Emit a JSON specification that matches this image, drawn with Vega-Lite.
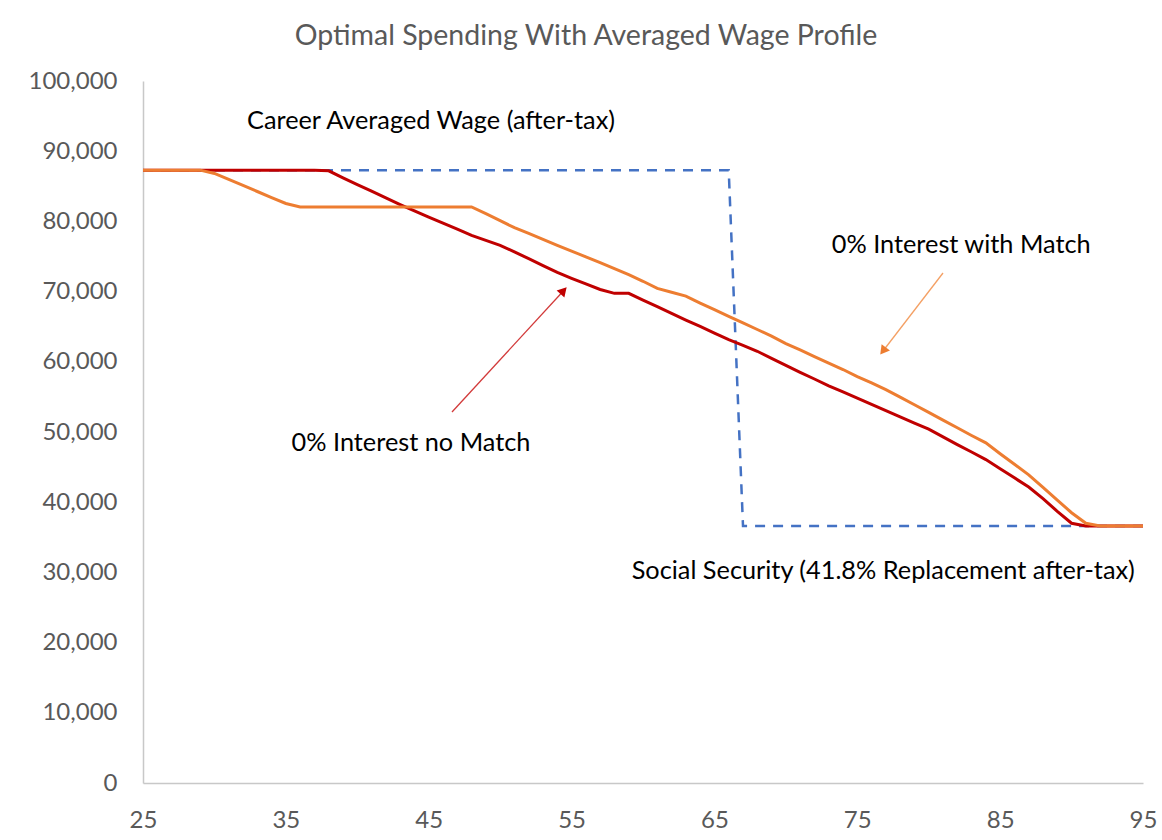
{
  "$schema": "https://vega.github.io/schema/vega-lite/v6.json",
  "width": 1000,
  "height": 702,
  "autosize": {"type": "none"},
  "padding": {"left": 143, "top": 81, "right": 19, "bottom": 57},
  "background": "white",
  "title": {
    "text": "Optimal Spending With Averaged Wage Profile",
    "font": "Lato",
    "fontSize": 28.5,
    "fontWeight": "normal",
    "color": "#595959",
    "anchor": "middle",
    "frame": "group",
    "dx": -57,
    "offset": 19
  },
  "config": {
    "view": {"stroke": null},
    "font": "Lato",
    "axis": {
      "grid": false,
      "ticks": false,
      "domainColor": "#C8C8C8",
      "domainWidth": 1.5,
      "labelFont": "Lato",
      "labelFontSize": 24,
      "labelColor": "#595959",
      "title": null
    }
  },
  "datasets": {
    "lines": [
      {"series": "wage", "age": 25, "value": 87300},
      {"series": "wage", "age": 66, "value": 87300},
      {"series": "wage", "age": 67, "value": 36600},
      {"series": "wage", "age": 95, "value": 36600},
      {"series": "no_match", "age": 25, "value": 87300},
      {"series": "no_match", "age": 26, "value": 87300},
      {"series": "no_match", "age": 27, "value": 87300},
      {"series": "no_match", "age": 28, "value": 87300},
      {"series": "no_match", "age": 29, "value": 87300},
      {"series": "no_match", "age": 30, "value": 87300},
      {"series": "no_match", "age": 31, "value": 87300},
      {"series": "no_match", "age": 32, "value": 87300},
      {"series": "no_match", "age": 33, "value": 87300},
      {"series": "no_match", "age": 34, "value": 87300},
      {"series": "no_match", "age": 35, "value": 87300},
      {"series": "no_match", "age": 36, "value": 87300},
      {"series": "no_match", "age": 37, "value": 87300},
      {"series": "no_match", "age": 38, "value": 87200},
      {"series": "no_match", "age": 39, "value": 86200},
      {"series": "no_match", "age": 40, "value": 85250},
      {"series": "no_match", "age": 41, "value": 84300},
      {"series": "no_match", "age": 42, "value": 83350},
      {"series": "no_match", "age": 43, "value": 82400},
      {"series": "no_match", "age": 44, "value": 81500},
      {"series": "no_match", "age": 45, "value": 80600},
      {"series": "no_match", "age": 46, "value": 79750},
      {"series": "no_match", "age": 47, "value": 78900},
      {"series": "no_match", "age": 48, "value": 78000},
      {"series": "no_match", "age": 49, "value": 77300},
      {"series": "no_match", "age": 50, "value": 76600},
      {"series": "no_match", "age": 51, "value": 75650},
      {"series": "no_match", "age": 52, "value": 74700},
      {"series": "no_match", "age": 53, "value": 73700},
      {"series": "no_match", "age": 54, "value": 72750},
      {"series": "no_match", "age": 55, "value": 71900},
      {"series": "no_match", "age": 56, "value": 71100},
      {"series": "no_match", "age": 57, "value": 70300},
      {"series": "no_match", "age": 58, "value": 69750},
      {"series": "no_match", "age": 59, "value": 69750},
      {"series": "no_match", "age": 60, "value": 68800},
      {"series": "no_match", "age": 61, "value": 67850},
      {"series": "no_match", "age": 62, "value": 66900},
      {"series": "no_match", "age": 63, "value": 65950},
      {"series": "no_match", "age": 64, "value": 65050},
      {"series": "no_match", "age": 65, "value": 64100},
      {"series": "no_match", "age": 66, "value": 63150},
      {"series": "no_match", "age": 67, "value": 62350},
      {"series": "no_match", "age": 68, "value": 61500},
      {"series": "no_match", "age": 69, "value": 60500},
      {"series": "no_match", "age": 70, "value": 59500},
      {"series": "no_match", "age": 71, "value": 58500},
      {"series": "no_match", "age": 72, "value": 57550},
      {"series": "no_match", "age": 73, "value": 56580},
      {"series": "no_match", "age": 74, "value": 55700},
      {"series": "no_match", "age": 75, "value": 54830},
      {"series": "no_match", "age": 76, "value": 53940},
      {"series": "no_match", "age": 77, "value": 53050},
      {"series": "no_match", "age": 78, "value": 52170},
      {"series": "no_match", "age": 79, "value": 51280},
      {"series": "no_match", "age": 80, "value": 50400},
      {"series": "no_match", "age": 81, "value": 49300},
      {"series": "no_match", "age": 82, "value": 48200},
      {"series": "no_match", "age": 83, "value": 47150},
      {"series": "no_match", "age": 84, "value": 46070},
      {"series": "no_match", "age": 85, "value": 44780},
      {"series": "no_match", "age": 86, "value": 43470},
      {"series": "no_match", "age": 87, "value": 42160},
      {"series": "no_match", "age": 88, "value": 40500},
      {"series": "no_match", "age": 89, "value": 38700},
      {"series": "no_match", "age": 90, "value": 37000},
      {"series": "no_match", "age": 91, "value": 36600},
      {"series": "no_match", "age": 92, "value": 36600},
      {"series": "no_match", "age": 93, "value": 36600},
      {"series": "no_match", "age": 94, "value": 36600},
      {"series": "no_match", "age": 95, "value": 36600},
      {"series": "match", "age": 25, "value": 87300},
      {"series": "match", "age": 26, "value": 87300},
      {"series": "match", "age": 27, "value": 87300},
      {"series": "match", "age": 28, "value": 87300},
      {"series": "match", "age": 29, "value": 87300},
      {"series": "match", "age": 30, "value": 86830},
      {"series": "match", "age": 31, "value": 85970},
      {"series": "match", "age": 32, "value": 85120},
      {"series": "match", "age": 33, "value": 84260},
      {"series": "match", "age": 34, "value": 83400},
      {"series": "match", "age": 35, "value": 82550},
      {"series": "match", "age": 36, "value": 82050},
      {"series": "match", "age": 37, "value": 82050},
      {"series": "match", "age": 38, "value": 82050},
      {"series": "match", "age": 39, "value": 82050},
      {"series": "match", "age": 40, "value": 82050},
      {"series": "match", "age": 41, "value": 82050},
      {"series": "match", "age": 42, "value": 82050},
      {"series": "match", "age": 43, "value": 82050},
      {"series": "match", "age": 44, "value": 82050},
      {"series": "match", "age": 45, "value": 82050},
      {"series": "match", "age": 46, "value": 82050},
      {"series": "match", "age": 47, "value": 82050},
      {"series": "match", "age": 48, "value": 82050},
      {"series": "match", "age": 49, "value": 81100},
      {"series": "match", "age": 50, "value": 80100},
      {"series": "match", "age": 51, "value": 79100},
      {"series": "match", "age": 52, "value": 78280},
      {"series": "match", "age": 53, "value": 77440},
      {"series": "match", "age": 54, "value": 76600},
      {"series": "match", "age": 55, "value": 75780},
      {"series": "match", "age": 56, "value": 74960},
      {"series": "match", "age": 57, "value": 74130},
      {"series": "match", "age": 58, "value": 73270},
      {"series": "match", "age": 59, "value": 72410},
      {"series": "match", "age": 60, "value": 71470},
      {"series": "match", "age": 61, "value": 70450},
      {"series": "match", "age": 62, "value": 69900},
      {"series": "match", "age": 63, "value": 69350},
      {"series": "match", "age": 64, "value": 68360},
      {"series": "match", "age": 65, "value": 67420},
      {"series": "match", "age": 66, "value": 66480},
      {"series": "match", "age": 67, "value": 65540},
      {"series": "match", "age": 68, "value": 64600},
      {"series": "match", "age": 69, "value": 63660},
      {"series": "match", "age": 70, "value": 62600},
      {"series": "match", "age": 71, "value": 61700},
      {"series": "match", "age": 72, "value": 60750},
      {"series": "match", "age": 73, "value": 59800},
      {"series": "match", "age": 74, "value": 58900},
      {"series": "match", "age": 75, "value": 57900},
      {"series": "match", "age": 76, "value": 57000},
      {"series": "match", "age": 77, "value": 56040},
      {"series": "match", "age": 78, "value": 54960},
      {"series": "match", "age": 79, "value": 53880},
      {"series": "match", "age": 80, "value": 52800},
      {"series": "match", "age": 81, "value": 51700},
      {"series": "match", "age": 82, "value": 50600},
      {"series": "match", "age": 83, "value": 49500},
      {"series": "match", "age": 84, "value": 48450},
      {"series": "match", "age": 85, "value": 46900},
      {"series": "match", "age": 86, "value": 45400},
      {"series": "match", "age": 87, "value": 43900},
      {"series": "match", "age": 88, "value": 42100},
      {"series": "match", "age": 89, "value": 40300},
      {"series": "match", "age": 90, "value": 38500},
      {"series": "match", "age": 91, "value": 37000},
      {"series": "match", "age": 92, "value": 36600},
      {"series": "match", "age": 93, "value": 36600},
      {"series": "match", "age": 94, "value": 36600},
      {"series": "match", "age": 95, "value": 36600}
    ],
    "arrows": [
      {"arrow": "no_match", "age": 46.63, "value": 52850, "age2": 54.44, "value2": 70130},
      {"arrow": "match", "age": 81.0, "value": 72650, "age2": 76.8, "value2": 61540}
    ],
    "labels": [
      {"text": "Career Averaged Wage (after-tax)", "age": 32.28, "value": 93200},
      {"text": "0% Interest with Match", "age": 73.21, "value": 75460},
      {"text": "0% Interest no Match", "age": 35.4, "value": 47340},
      {"text": "Social Security (41.8% Replacement after-tax)", "age": 59.21, "value": 29120}
    ]
  },
  "encoding": {
    "x": {
      "field": "age",
      "type": "quantitative",
      "scale": {"domain": [25, 95], "nice": false, "zero": false},
      "axis": {"values": [25, 35, 45, 55, 65, 75, 85, 95], "labelPadding": 25, "labelFlush": false}
    },
    "y": {
      "field": "value",
      "type": "quantitative",
      "scale": {"domain": [0, 100000], "nice": false},
      "axis": {"values": [0, 10000, 20000, 30000, 40000, 50000, 60000, 70000, 80000, 90000, 100000], "format": ",.0f", "labelPadding": 26}
    }
  },
  "layer": [
    {
      "data": {"name": "lines"},
      "transform": [{"filter": "datum.series === 'wage'"}],
      "mark": {"type": "line", "color": "#4472C4", "strokeWidth": 2.5, "strokeDash": [10, 8]}
    },
    {
      "data": {"name": "lines"},
      "transform": [{"filter": "datum.series === 'no_match'"}],
      "mark": {"type": "line", "color": "#C00000", "strokeWidth": 3}
    },
    {
      "data": {"name": "lines"},
      "transform": [{"filter": "datum.series === 'match'"}],
      "mark": {"type": "line", "color": "#ED7D31", "strokeWidth": 3}
    },
    {
      "data": {"name": "arrows"},
      "transform": [{"filter": "datum.arrow === 'no_match'"}],
      "mark": {"type": "rule", "color": "#D23A3A", "strokeWidth": 1.3},
      "encoding": {"x2": {"field": "age2"}, "y2": {"field": "value2"}}
    },
    {
      "data": {"name": "arrows"},
      "transform": [{"filter": "datum.arrow === 'match'"}],
      "mark": {"type": "rule", "color": "#F4A064", "strokeWidth": 1.3},
      "encoding": {"x2": {"field": "age2"}, "y2": {"field": "value2"}}
    },
    {
      "data": {"name": "arrows"},
      "transform": [{"filter": "datum.arrow === 'no_match'"}],
      "mark": {"type": "point", "shape": "triangle-up", "filled": true, "color": "#C00000", "opacity": 1, "size": 110, "angle": 42.6},
      "encoding": {
        "x": {"field": "age2", "type": "quantitative"},
        "y": {"field": "value2", "type": "quantitative"}
      }
    },
    {
      "data": {"name": "arrows"},
      "transform": [{"filter": "datum.arrow === 'match'"}],
      "mark": {"type": "point", "shape": "triangle-up", "filled": true, "color": "#ED7D31", "opacity": 1, "size": 110, "angle": 217.5},
      "encoding": {
        "x": {"field": "age2", "type": "quantitative"},
        "y": {"field": "value2", "type": "quantitative"}
      }
    },
    {
      "data": {"name": "labels"},
      "mark": {"type": "text", "align": "left", "baseline": "alphabetic", "font": "Lato", "fontSize": 25.3, "color": "#000000"},
      "encoding": {"text": {"field": "text"}}
    }
  ]
}
